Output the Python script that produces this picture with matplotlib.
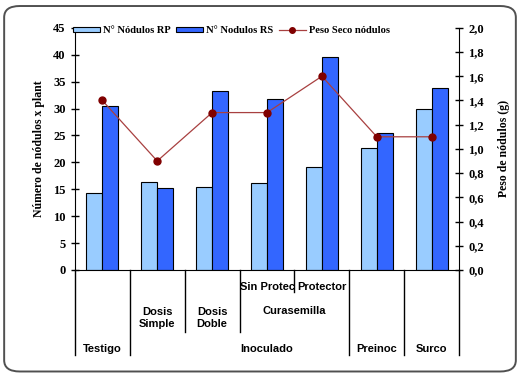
import matplotlib as mpl
mpl.use('Agg')
import matplotlib.pyplot as plt
import numpy as np
from matplotlib.patches import FancyBboxPatch
from matplotlib.lines import Line2D
from matplotlib.ticker import FuncFormatter


nod_rp = [14.3, 16.3, 15.5, 16.2, 19.1, 22.7, 30.0]
nod_rs = [30.5, 15.3, 33.3, 31.7, 39.5, 25.4, 33.9]
peso = [1.4, 0.9, 1.3, 1.3, 1.6, 1.1, 1.1]

# lower level labels: (text, x position in category units, axes y)
sub_labels = [('Dosis\nSimple', 1, -0.20),
              ('Dosis\nDoble', 2, -0.20),
              ('Sin Protec', 3, -0.07),
              ('Protector', 4, -0.07),
              ('Curasemilla', 3.5, -0.17)]
top_labels = [('Testigo', 0), ('Inoculado', 3), ('Preinoc', 5), ('Surco', 6)]
# separator lines: (x boundary, lower end in axes y)
separators = [(-0.5, -0.35), (0.5, -0.35), (1.5, -0.255), (2.5, -0.255),
              (3.5, -0.09), (4.5, -0.35), (5.5, -0.35), (6.5, -0.35)]


def main():
    serif = 'Liberation Serif'
    sans = 'Liberation Sans'
    fig = plt.figure(figsize=(5.2, 3.76), dpi=100)
    frame = FancyBboxPatch((0.008, 0.012), 0.984, 0.972,
                           boxstyle='round,pad=0,rounding_size=0.03',
                           transform=fig.transFigure, fc='white',
                           ec='#505050', lw=1.4, zorder=-5)
    fig.patches.append(frame)
    ax = fig.add_axes([0.144, 0.282, 0.739, 0.644])
    ax2 = ax.twinx()
    ax.patch.set_alpha(0)
    ax2.patch.set_alpha(0)

    x = np.arange(len(nod_rp))
    w = 0.29
    ax.bar(x - w / 2, nod_rp, w, color='#99CCFF', edgecolor='black',
           lw=0.8, label='N° Nódulos RP', zorder=2)
    ax.bar(x + w / 2, nod_rs, w, color='#3366FF', edgecolor='black',
           lw=0.8, label='N° Nodulos RS', zorder=2)
    ax2.plot(x, peso, color='#A84040', lw=0.9, marker='o', ms=5,
             mfc='#800000', mec='#800000', label='Peso Seco nódulos')

    ax.set_xlim(-0.5, 6.5)
    ax.set_ylim(0, 45)
    ax2.set_ylim(0, 2.0)
    ax.set_yticks(np.arange(0, 46, 5))
    ax2.set_yticks(np.arange(0, 2.01, 0.2))
    ax2.yaxis.set_major_formatter(
        FuncFormatter(lambda v, p: ('%.1f' % v).replace('.', ',')))
    ax.set_xticks([])
    for a in (ax, ax2):
        a.spines['top'].set_visible(False)
        a.tick_params(axis='y', direction='inout', length=6, width=1,
                      labelsize=9)
        for lab in a.get_yticklabels():
            lab.set_fontfamily(serif)
            lab.set_fontweight('bold')
    ax.spines['right'].set_visible(False)
    ax2.spines['left'].set_visible(False)
    ax2.spines['bottom'].set_visible(False)

    ax.set_ylabel('Número de nódulos x plant', fontfamily=serif,
                  fontweight='bold', fontsize=8.5, labelpad=6)
    ax2.set_ylabel('Peso de nódulos (g)', fontfamily=serif,
                   fontweight='bold', fontsize=8.5, labelpad=10)

    trans = ax.get_xaxis_transform()
    for xb, yb in separators:
        ax.add_line(Line2D([xb, xb], [0, yb], transform=trans, color='black',
                           lw=1, clip_on=False))
    for txt, xp, yp in sub_labels:
        ax.text(xp, yp, txt, transform=trans, ha='center', va='center',
                fontfamily=sans, fontweight='bold', fontsize=8,
                linespacing=1.25)
    for txt, xp in top_labels:
        ax.text(xp, -0.325, txt, transform=trans, ha='center', va='center',
                fontfamily=sans, fontweight='bold', fontsize=8)

    h1, l1 = ax.get_legend_handles_labels()
    h2, l2 = ax2.get_legend_handles_labels()
    fig.legend(h1 + h2, l1 + l2, loc='center left',
               bbox_to_anchor=(0.122, 0.918), ncol=3, frameon=False,
               handlelength=2.6, handleheight=0.45, handletextpad=0.25,
               columnspacing=0.5, markerscale=0.8,
               prop={'family': serif, 'weight': 'bold', 'size': 7.6})
    fig.savefig('out.png', dpi=100)


if __name__ == '__main__':
    main()
